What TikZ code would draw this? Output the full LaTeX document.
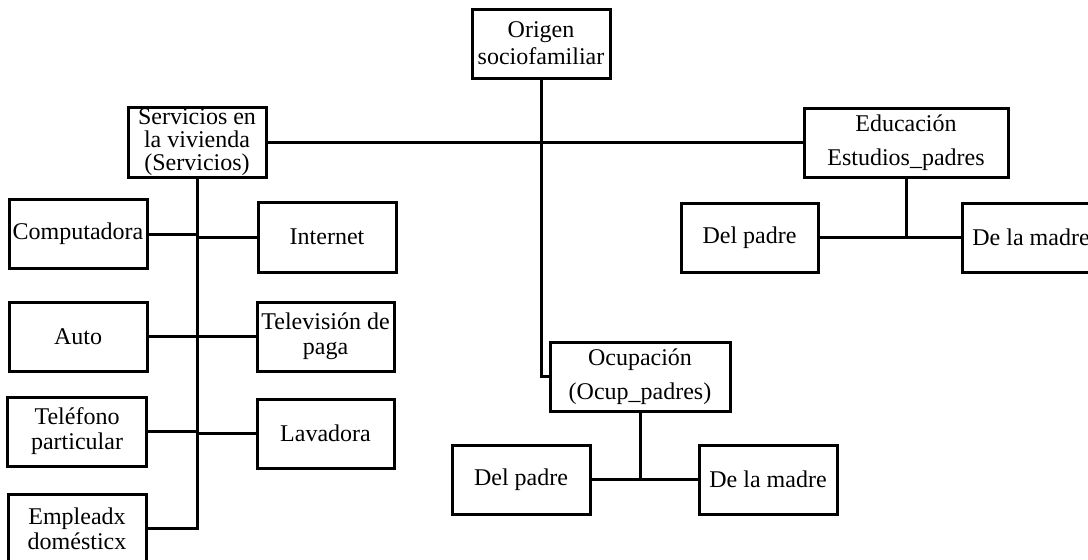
\documentclass[tikz,border=0pt]{standalone}
\usepackage{fontspec}
\setmainfont{Liberation Serif}
\begin{document}
\begin{tikzpicture}[x=1pt,y=-1pt,
  box/.style={draw, line width=3pt, inner sep=0pt, align=center,
    minimum width=138pt, minimum height=69pt,
    font=\fontsize{24}{25}\selectfont},
  link/.style={line width=3pt}]
\useasboundingbox (0,0) rectangle (1088,560);
\clip (0,0) rectangle (1088,560);

% top level
\node[box, minimum width=138pt, font=\fontsize{24}{27}\selectfont] (orig) at (541,43.5) {Origen\\sociofamiliar};
\node[box, minimum height=70pt, font=\fontsize{24}{23}\selectfont] (serv) at (197,142) {Servicios en\\la vivienda\\(Servicios)};
\node[box, minimum width=204pt, font=\fontsize{24}{34}\selectfont] (edu) at (906,142.5) {Educación\\Estudios\_padres};
\node[box, minimum width=180pt, font=\fontsize{24}{34}\selectfont] (ocup) at (640,376.5) {Ocupación\\(Ocup\_padres)};

% household services
\node[box] (comp) at (78,234) {Computadora};
\node[box, minimum height=70pt] (inet) at (327,237) {Internet};
\node[box] (auto) at (78,336.5) {Auto};
\node[box, minimum width=137pt] (tv) at (325.5,336.5) {Televisión de\\paga};
\node[box, minimum width=139pt] (tel) at (77,431.5) {Teléfono\\particular};
\node[box, minimum width=137pt] (lav) at (325.5,433.5) {Lavadora};
\node[box] (emp) at (77,528.5) {Empleadx\\domésticx};

% parents' education
\node[box, minimum width=137pt] (epad) at (749.5,237.5) {Del padre};
\node[box] (emad) at (1031,237.5) {De la madre};

% parents' occupation
\node[box] (opad) at (521,479.5) {Del padre};
\node[box] (omad) at (768,479.5) {De la madre};

% connectors
\draw[link] (orig.south) |- (ocup.west);
\draw[link] (serv.east) -- (serv.east -| edu.west);
\draw[link] (serv.south) |- (emp.east);
\draw[link] (comp.east) -- (comp.east -| serv.south);
\draw[link] (inet.west) -- (inet.west -| serv.south);
\draw[link] (auto.east) -- (tv.west);
\draw[link] (tel.east) -- (tel.east -| serv.south);
\draw[link] (lav.west) -- (lav.west -| serv.south);
\draw[link] (edu.south) -- (edu.south |- epad.east);
\draw[link] (epad.east) -- (emad.west);
\draw[link] (ocup.south) -- (ocup.south |- opad.east);
\draw[link] (opad.east) -- (omad.west);
\end{tikzpicture}
\end{document}
